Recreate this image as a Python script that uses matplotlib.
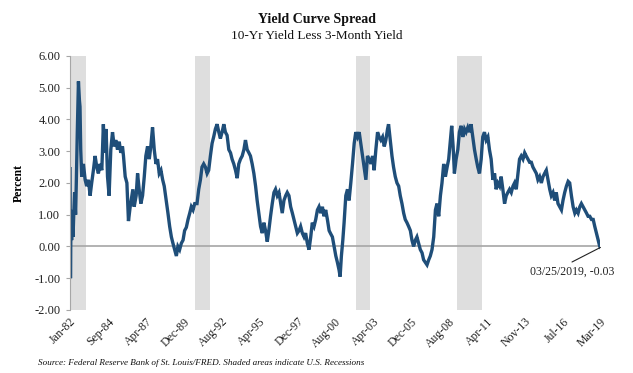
import numpy as np
import pandas as pd
import matplotlib
matplotlib.use('Agg')
import matplotlib.pyplot as plt

# values (decimal year, percent)
years = [
    1982.01, 1982.04, 1982.08, 1982.12, 1982.17, 1982.22, 1982.27, 1982.33, 1982.40, 1982.45,
    1982.52, 1982.60, 1982.67, 1982.71, 1982.76, 1982.83, 1982.95, 1983.07, 1983.18, 1983.30,
    1983.42, 1983.53, 1983.65, 1983.77, 1983.89, 1984.00, 1984.12, 1984.24, 1984.35, 1984.43,
    1984.54, 1984.64, 1984.75, 1984.87, 1984.99, 1985.11, 1985.22, 1985.34, 1985.46, 1985.57,
    1985.69, 1985.76, 1985.88, 1986.00, 1986.11, 1986.23, 1986.35, 1986.42, 1986.51, 1986.65,
    1986.75, 1986.86, 1986.98, 1987.10, 1987.22, 1987.33, 1987.45, 1987.57, 1987.68, 1987.80,
    1987.92, 1988.04, 1988.15, 1988.27, 1988.39, 1988.51, 1988.62, 1988.76, 1988.88, 1989.00,
    1989.12, 1989.23, 1989.35, 1989.47, 1989.58, 1989.70, 1989.82, 1989.94, 1990.05, 1990.17,
    1990.29, 1990.41, 1990.52, 1990.64, 1990.76, 1990.92, 1991.04, 1991.16, 1991.27, 1991.39,
    1991.51, 1991.63, 1991.74, 1991.86, 1991.98, 1992.09, 1992.21, 1992.33, 1992.45, 1992.56,
    1992.68, 1992.80, 1992.91, 1993.03, 1993.15, 1993.27, 1993.38, 1993.50, 1993.62, 1993.74,
    1993.85, 1993.97, 1994.09, 1994.21, 1994.32, 1994.44, 1994.56, 1994.67, 1994.79, 1994.91,
    1995.03, 1995.14, 1995.26, 1995.38, 1995.50, 1995.61, 1995.73, 1995.85, 1995.96, 1996.08,
    1996.20, 1996.32, 1996.43, 1996.55, 1996.67, 1996.79, 1996.90, 1997.02, 1997.14, 1997.25,
    1997.37, 1997.49, 1997.61, 1997.72, 1997.84, 1997.96, 1998.08, 1998.19, 1998.31, 1998.43,
    1998.54, 1998.66, 1998.78, 1998.90, 1999.01, 1999.13, 1999.25, 1999.37, 1999.48, 1999.60,
    1999.72, 1999.83, 1999.95, 2000.07, 2000.19, 2000.30, 2000.42, 2000.54, 2000.66, 2000.77,
    2000.89, 2000.96, 2001.05, 2001.15, 2001.24, 2001.36, 2001.48, 2001.59, 2001.71, 2001.83,
    2001.95, 2002.06, 2002.18, 2002.30, 2002.41, 2002.53, 2002.65, 2002.77, 2002.88, 2003.00,
    2003.12, 2003.24, 2003.35, 2003.47, 2003.59, 2003.70, 2003.82, 2003.94, 2004.06, 2004.17,
    2004.29, 2004.36, 2004.48, 2004.60, 2004.71, 2004.83, 2004.95, 2005.07, 2005.18, 2005.30,
    2005.42, 2005.53, 2005.65, 2005.77, 2005.89, 2006.00, 2006.12, 2006.24, 2006.35, 2006.47,
    2006.59, 2006.71, 2006.82, 2006.94, 2007.06, 2007.18, 2007.29, 2007.41, 2007.53, 2007.65,
    2007.76, 2007.88, 2008.00, 2008.11, 2008.23, 2008.35, 2008.47, 2008.58, 2008.70, 2008.79,
    2008.89, 2008.98, 2009.10, 2009.22, 2009.33, 2009.45, 2009.57, 2009.69, 2009.80, 2009.92,
    2010.04, 2010.15, 2010.27, 2010.39, 2010.51, 2010.62, 2010.74, 2010.86, 2010.97, 2011.09,
    2011.21, 2011.33, 2011.44, 2011.56, 2011.68, 2011.80, 2011.91, 2012.03, 2012.15, 2012.26,
    2012.38, 2012.50, 2012.62, 2012.73, 2012.85, 2012.97, 2013.09, 2013.20, 2013.32, 2013.44,
    2013.55, 2013.67, 2013.79, 2013.91, 2014.02, 2014.14, 2014.26, 2014.38, 2014.49, 2014.61,
    2014.73, 2014.84, 2014.96, 2015.08, 2015.20, 2015.31, 2015.43, 2015.55, 2015.67, 2015.78,
    2015.90, 2016.02, 2016.13, 2016.25, 2016.37, 2016.49, 2016.60, 2016.72, 2016.84, 2016.96,
    2017.07, 2017.19, 2017.31, 2017.43, 2017.54, 2017.66, 2017.78, 2017.89, 2018.01, 2018.13,
    2018.25, 2018.36, 2018.48, 2018.60, 2018.72, 2018.83, 2018.95, 2019.07, 2019.18, 2019.23,
]
spread = [
    2.45, -1.00, 1.15, 0.20, 0.90, 0.30, 1.00, 1.70, 1.00, 2.00,
    3.60, 5.20, 4.60, 4.40, 3.05, 2.20, 2.60, 2.10, 1.90, 2.10,
    1.60, 2.00, 2.40, 2.85, 2.50, 2.30, 2.60, 2.40, 3.85, 2.95,
    3.70, 2.20, 1.60, 3.05, 3.60, 3.15, 3.35, 3.05, 3.30, 2.95,
    3.15, 2.85, 2.20, 2.00, 0.80, 1.25, 1.60, 1.80, 1.25, 1.60,
    2.30, 1.80, 1.35, 1.60, 2.20, 2.85, 3.15, 2.75, 3.15, 3.75,
    3.05, 2.60, 2.75, 2.30, 2.40, 2.10, 1.90, 1.45, 1.05, 0.63,
    0.30, 0.10, -0.10, -0.30, 0.00, -0.10, 0.10, 0.20, 0.50, 0.60,
    0.85, 1.05, 1.25, 1.15, 1.35, 1.35, 1.80, 2.10, 2.50, 2.60,
    2.50, 2.30, 2.40, 2.85, 3.25, 3.45, 3.70, 3.85, 3.60, 3.40,
    3.60, 3.85, 3.60, 3.50, 3.05, 2.95, 2.75, 2.60, 2.40, 2.15,
    2.60, 2.75, 2.85, 3.05, 3.35, 3.05, 2.95, 2.85, 2.60, 2.30,
    1.90, 1.45, 1.05, 0.63, 0.42, 0.75, 0.50, 0.15, 0.50, 0.95,
    1.35, 1.70, 1.80, 1.60, 1.70, 1.35, 1.05, 1.45, 1.60, 1.70,
    1.60, 1.25, 1.05, 0.85, 0.63, 0.42, 0.50, 0.63, 0.42, 0.30,
    0.42, 0.10, -0.10, 0.30, 0.75, 0.63, 0.85, 1.15, 1.25, 1.05,
    1.25, 0.95, 1.15, 0.85, 0.50, 0.40, 0.30, 0.00, -0.30, -0.50,
    -0.75, -0.95, -0.30, 0.20, 0.75, 1.60, 1.80, 1.45, 2.00, 2.60,
    3.25, 3.60, 3.45, 3.60, 3.25, 2.85, 2.50, 2.10, 2.85, 2.75,
    2.60, 2.85, 2.40, 3.05, 3.60, 3.45, 3.35, 3.45, 3.15, 3.35,
    3.70, 3.85, 3.35, 2.85, 2.50, 2.20, 2.00, 1.90, 1.60, 1.35,
    1.05, 0.85, 0.75, 0.63, 0.50, 0.20, 0.00, 0.20, 0.30, 0.10,
    -0.10, -0.20, -0.42, -0.50, -0.58, -0.42, -0.30, -0.10, 0.30, 1.15,
    1.35, 0.95, 1.60, 2.00, 2.60, 2.20, 2.50, 2.75, 3.35, 3.80,
    3.15, 2.30, 2.75, 3.05, 3.60, 3.80, 3.45, 3.70, 3.60, 3.75,
    3.60, 3.85, 3.45, 3.05, 2.75, 2.50, 2.30, 2.75, 3.45, 3.60,
    3.35, 3.45, 3.05, 2.75, 2.10, 2.30, 1.80, 2.00, 1.90, 2.20,
    1.80, 1.35, 1.60, 1.70, 1.80, 1.70, 1.90, 2.00, 1.80, 2.30,
    2.75, 2.85, 2.75, 2.95, 2.85, 2.75, 2.65, 2.65, 2.50, 2.40,
    2.30, 2.10, 2.20, 2.00, 2.20, 2.30, 2.40, 2.10, 1.80, 1.60,
    1.70, 1.45, 1.70, 1.35, 1.25, 1.15, 1.45, 1.70, 1.90, 2.05,
    2.00, 1.60, 1.25, 1.05, 1.15, 1.05, 1.25, 1.35, 1.25, 1.15,
    1.05, 0.95, 0.95, 0.85, 0.85, 0.63, 0.42, 0.20, 0.00, -0.03,
]

# shaded recession bands as they sit in the picture
rec_start = [1982.01, 1990.80, 2002.06, 2009.17]
rec_end = [1983.14, 1991.85, 2003.07, 2010.93]

tick_labels = ['Jan-82', 'Sep-84', 'Apr-87', 'Dec-89', 'Aug-92', 'Apr-95', 'Dec-97', 'Aug-00',
               'Apr-03', 'Dec-05', 'Aug-08', 'Apr-11', 'Nov-13', 'Jul-16', 'Mar-19']
tick_start = '1982-01-05'
tick_step_days = 971

last_label = '03/25/2019, -0.03'


def to_date(y):
    y = np.asarray(y, dtype=float)
    yr = np.floor(y).astype(int)
    start = pd.to_datetime([f'{v}-01-01' for v in yr])
    end = pd.to_datetime([f'{v + 1}-01-01' for v in yr])
    return start + (end - start) * (y - yr)


plt.rcParams['font.family'] = ['Liberation Serif', 'DejaVu Serif']
plt.rcParams['axes.unicode_minus'] = False

dates = to_date(years)
line_color = '#1f4e79'
grey = '#a6a6a6'
ink = '#222222'

fig = plt.figure(figsize=(6.33, 3.73), dpi=100)
ax = fig.add_axes([0.1106, 0.169, 0.838, 0.681])

for s, e in zip(to_date(rec_start), to_date(rec_end)):
    ax.axvspan(s, e, color='#dedede', lw=0, zorder=0)

ax.axhline(0, color=grey, lw=1.2, zorder=1)
ax.plot(dates, spread, color=line_color, lw=2.4, solid_joinstyle='miter', zorder=2)

ax.set_xlim(pd.Timestamp('1982-01-04'), pd.Timestamp('2019-03-25'))
ax.set_ylim(-2, 6)
ax.set_yticks(np.arange(-2, 7, 1))
ax.yaxis.set_major_formatter(matplotlib.ticker.FormatStrFormatter('%.2f'))

ticks = [pd.Timestamp(tick_start) + pd.Timedelta(days=tick_step_days * i) for i in range(len(tick_labels))]
ax.set_xticks(ticks)
ax.set_xticklabels(tick_labels, rotation=45, ha='right', va='top', rotation_mode='anchor')

for side in ['top', 'right', 'bottom']:
    ax.spines[side].set_visible(False)
ax.spines['left'].set_color(grey)
ax.tick_params(axis='y', length=3, color=grey, labelsize=9, pad=4, labelcolor=ink)
ax.tick_params(axis='x', length=0, labelsize=8.5, pad=4, labelcolor=ink)

ax.set_ylabel('Percent', fontsize=8.5, fontweight='bold', labelpad=7)

# leader line from the last point, label centred below its end
ax.annotate('', xy=(dates[-1], spread[-1]), xytext=(572, 111), textcoords='figure pixels',
            arrowprops=dict(arrowstyle='-', color=ink, lw=0.8, shrinkA=0, shrinkB=0))
fig.text(572 / 633, 101 / 373, last_label, ha='center', va='center', fontsize=8.5, color=ink)

fig.text(0.5, 1 - 19 / 373, 'Yield Curve Spread', ha='center', va='center',
         fontsize=10, fontweight='bold', color='#111111')
fig.text(0.5, 1 - 36 / 373, '10-Yr Yield Less 3-Month Yield', ha='center', va='center',
         fontsize=9.5, color='#111111')
fig.text(38 / 633, 1 - 363 / 373, 'Source: Federal Reserve Bank of St. Louis/FRED. Shaded areas indicate U.S. Recessions',
         ha='left', va='center', fontsize=6.6, style='italic', color='#111111')

fig.savefig('out.png', dpi=100)
